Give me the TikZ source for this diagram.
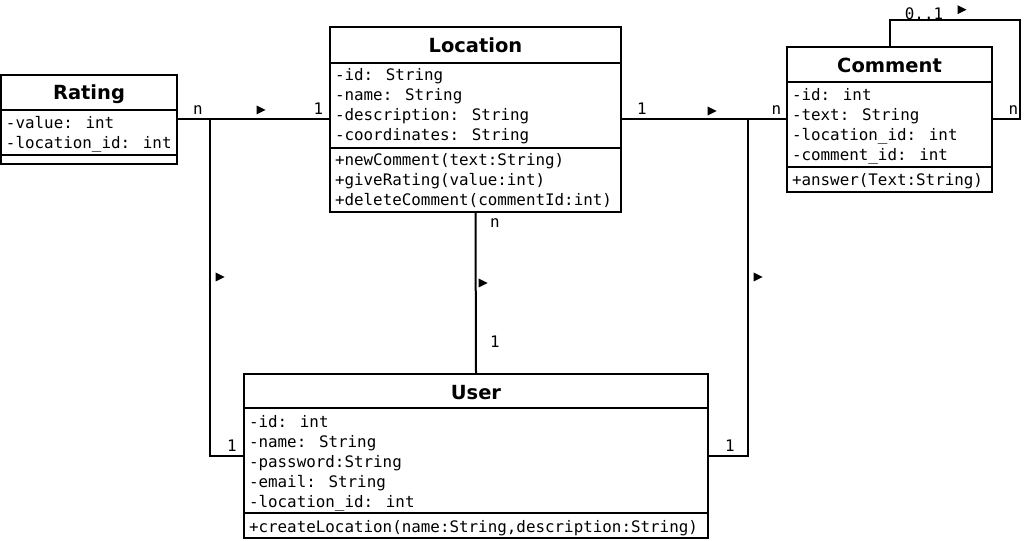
\documentclass[tikz,border=0pt]{standalone}
\usepackage{fontspec}
\newfontfamily\umlmono{DejaVu Sans Mono}
\newfontfamily\umlsans{DejaVu Sans}
\usetikzlibrary{fit}
\begin{document}
\begin{tikzpicture}[x=0.75pt,y=-0.75pt, line width=1.5pt,
  cls/.style={draw, inner sep=0pt, line width=1.5pt},
  ttl/.style={font=\umlsans\bfseries\fontsize{14.6}{16}\selectfont, anchor=base, inner sep=0pt},
  mem/.style={font=\umlmono\fontsize{11.9}{14}\selectfont, anchor=base west, inner sep=0pt},
  lbl/.style={font=\umlmono\fontsize{11.9}{14}\selectfont, anchor=base, inner sep=0pt},
  tri/.style={minimum width=6.75pt, minimum height=6.75pt, inner sep=0pt,
    path picture={\fill (path picture bounding box.north west) -- (path picture bounding box.east) -- (path picture bounding box.south west) -- cycle;}},
  sepline/.style={line width=1.5pt}]
\fill[white] (0,0) rectangle (1024,541);
\useasboundingbox (0,0) rectangle (1024,541);

% ---------- Rating ----------
\node[cls, fit={(1,75) (177,164)}] (rat) {};
\draw[sepline] (1,110) -- (177,110);
\draw[sepline] (1,155) -- (177,155);
\node[ttl] (ratT) at (89,100) {Rating};
\node[mem] (ratA1) at (5,128.5) {-value: int};
\node[mem] (ratA2) at (5,148.5) {-location\_id: int};

% ---------- Location ----------
\node[cls, fit={(330,27) (621,212)}] (loc) {};
\draw[sepline] (330,62.7) -- (621,62.7);
\draw[sepline] (330,147.7) -- (621,147.7);
\node[ttl] (locT) at (475.5,53) {Location};
\node[mem] (locA1) at (334,80.5) {-id: String};
\node[mem] (locA2) at (334,100.5) {-name: String};
\node[mem] (locA3) at (334,120.5) {-description: String};
\node[mem] (locA4) at (334,140.5) {-coordinates: String};
\node[mem] (locM1) at (334,165.5) {+newComment(text:String)};
\node[mem] (locM2) at (334,185.5) {+giveRating(value:int)};
\node[mem] (locM3) at (334,205.5) {+deleteComment(commentId:int)};

% ---------- Comment ----------
\node[cls, fit={(787,47) (992,192)}] (com) {};
\draw[sepline] (787,82) -- (992,82);
\draw[sepline] (787,167) -- (992,167);
\node[ttl] (comT) at (889.5,72.5) {Comment};
\node[mem] (comA1) at (791,101) {-id: int};
\node[mem] (comA2) at (791,121) {-text: String};
\node[mem] (comA3) at (791,141) {-location\_id: int};
\node[mem] (comA4) at (791,161) {-comment\_id: int};
\node[mem] (comM1) at (791,186) {+answer(Text:String)};

% ---------- User ----------
\node[cls, fit={(244,374) (708,538)}] (usr) {};
\draw[sepline] (244,408) -- (708,408);
\draw[sepline] (244,513) -- (708,513);
\node[ttl] (usrT) at (476,399) {User};
\node[mem] (usrA1) at (248,427) {-id: int};
\node[mem] (usrA2) at (248,447) {-name: String};
\node[mem] (usrA3) at (248,467) {-password:String};
\node[mem] (usrA4) at (248,487) {-email: String};
\node[mem] (usrA5) at (248,507) {-location\_id: int};
\node[mem] (usrM1) at (248,532) {+createLocation(name:String,description:String)};

% ---------- labels ----------
\node[lbl] (l1) at (198,115) {n};
\node[lbl] (l2) at (318.5,115) {1};
\node[tri] (a1) at (261,110) {};
\node[lbl] (l3) at (642,115) {1};
\node[tri] (a2) at (712,111) {};
\node[lbl] (l4) at (776.5,115) {n};
\node[lbl] (l5) at (1013.5,115) {n};
\node[lbl] (l6) at (924,19.5) {0..1};
\node[tri] (a3) at (962,9.7) {};
\node[tri] (a4) at (220,277) {};
\node[lbl] (l7) at (232,451) {1};
\node[lbl] (l8) at (495,228) {n};
\node[tri] (a5) at (483,283) {};
\node[lbl] (l9) at (495,348) {1};
\node[tri] (a6) at (758,277) {};
\node[lbl] (l10) at (730,451) {1};

% ---------- connectors ----------
\coordinate (j1) at (210,119.5);
\coordinate (j2) at (748,119.5);
\coordinate (lp) at (1020,20);
\draw (rat.east) -- (loc.west);
\draw (j1) |- (usr.west);
\draw (loc.east) -- (com.west);
\draw (j2) |- (usr.east);
\draw (loc.south) -- (usr.north);
\draw (com.north) |- (lp) |- (com.east);
\end{tikzpicture}
\end{document}
